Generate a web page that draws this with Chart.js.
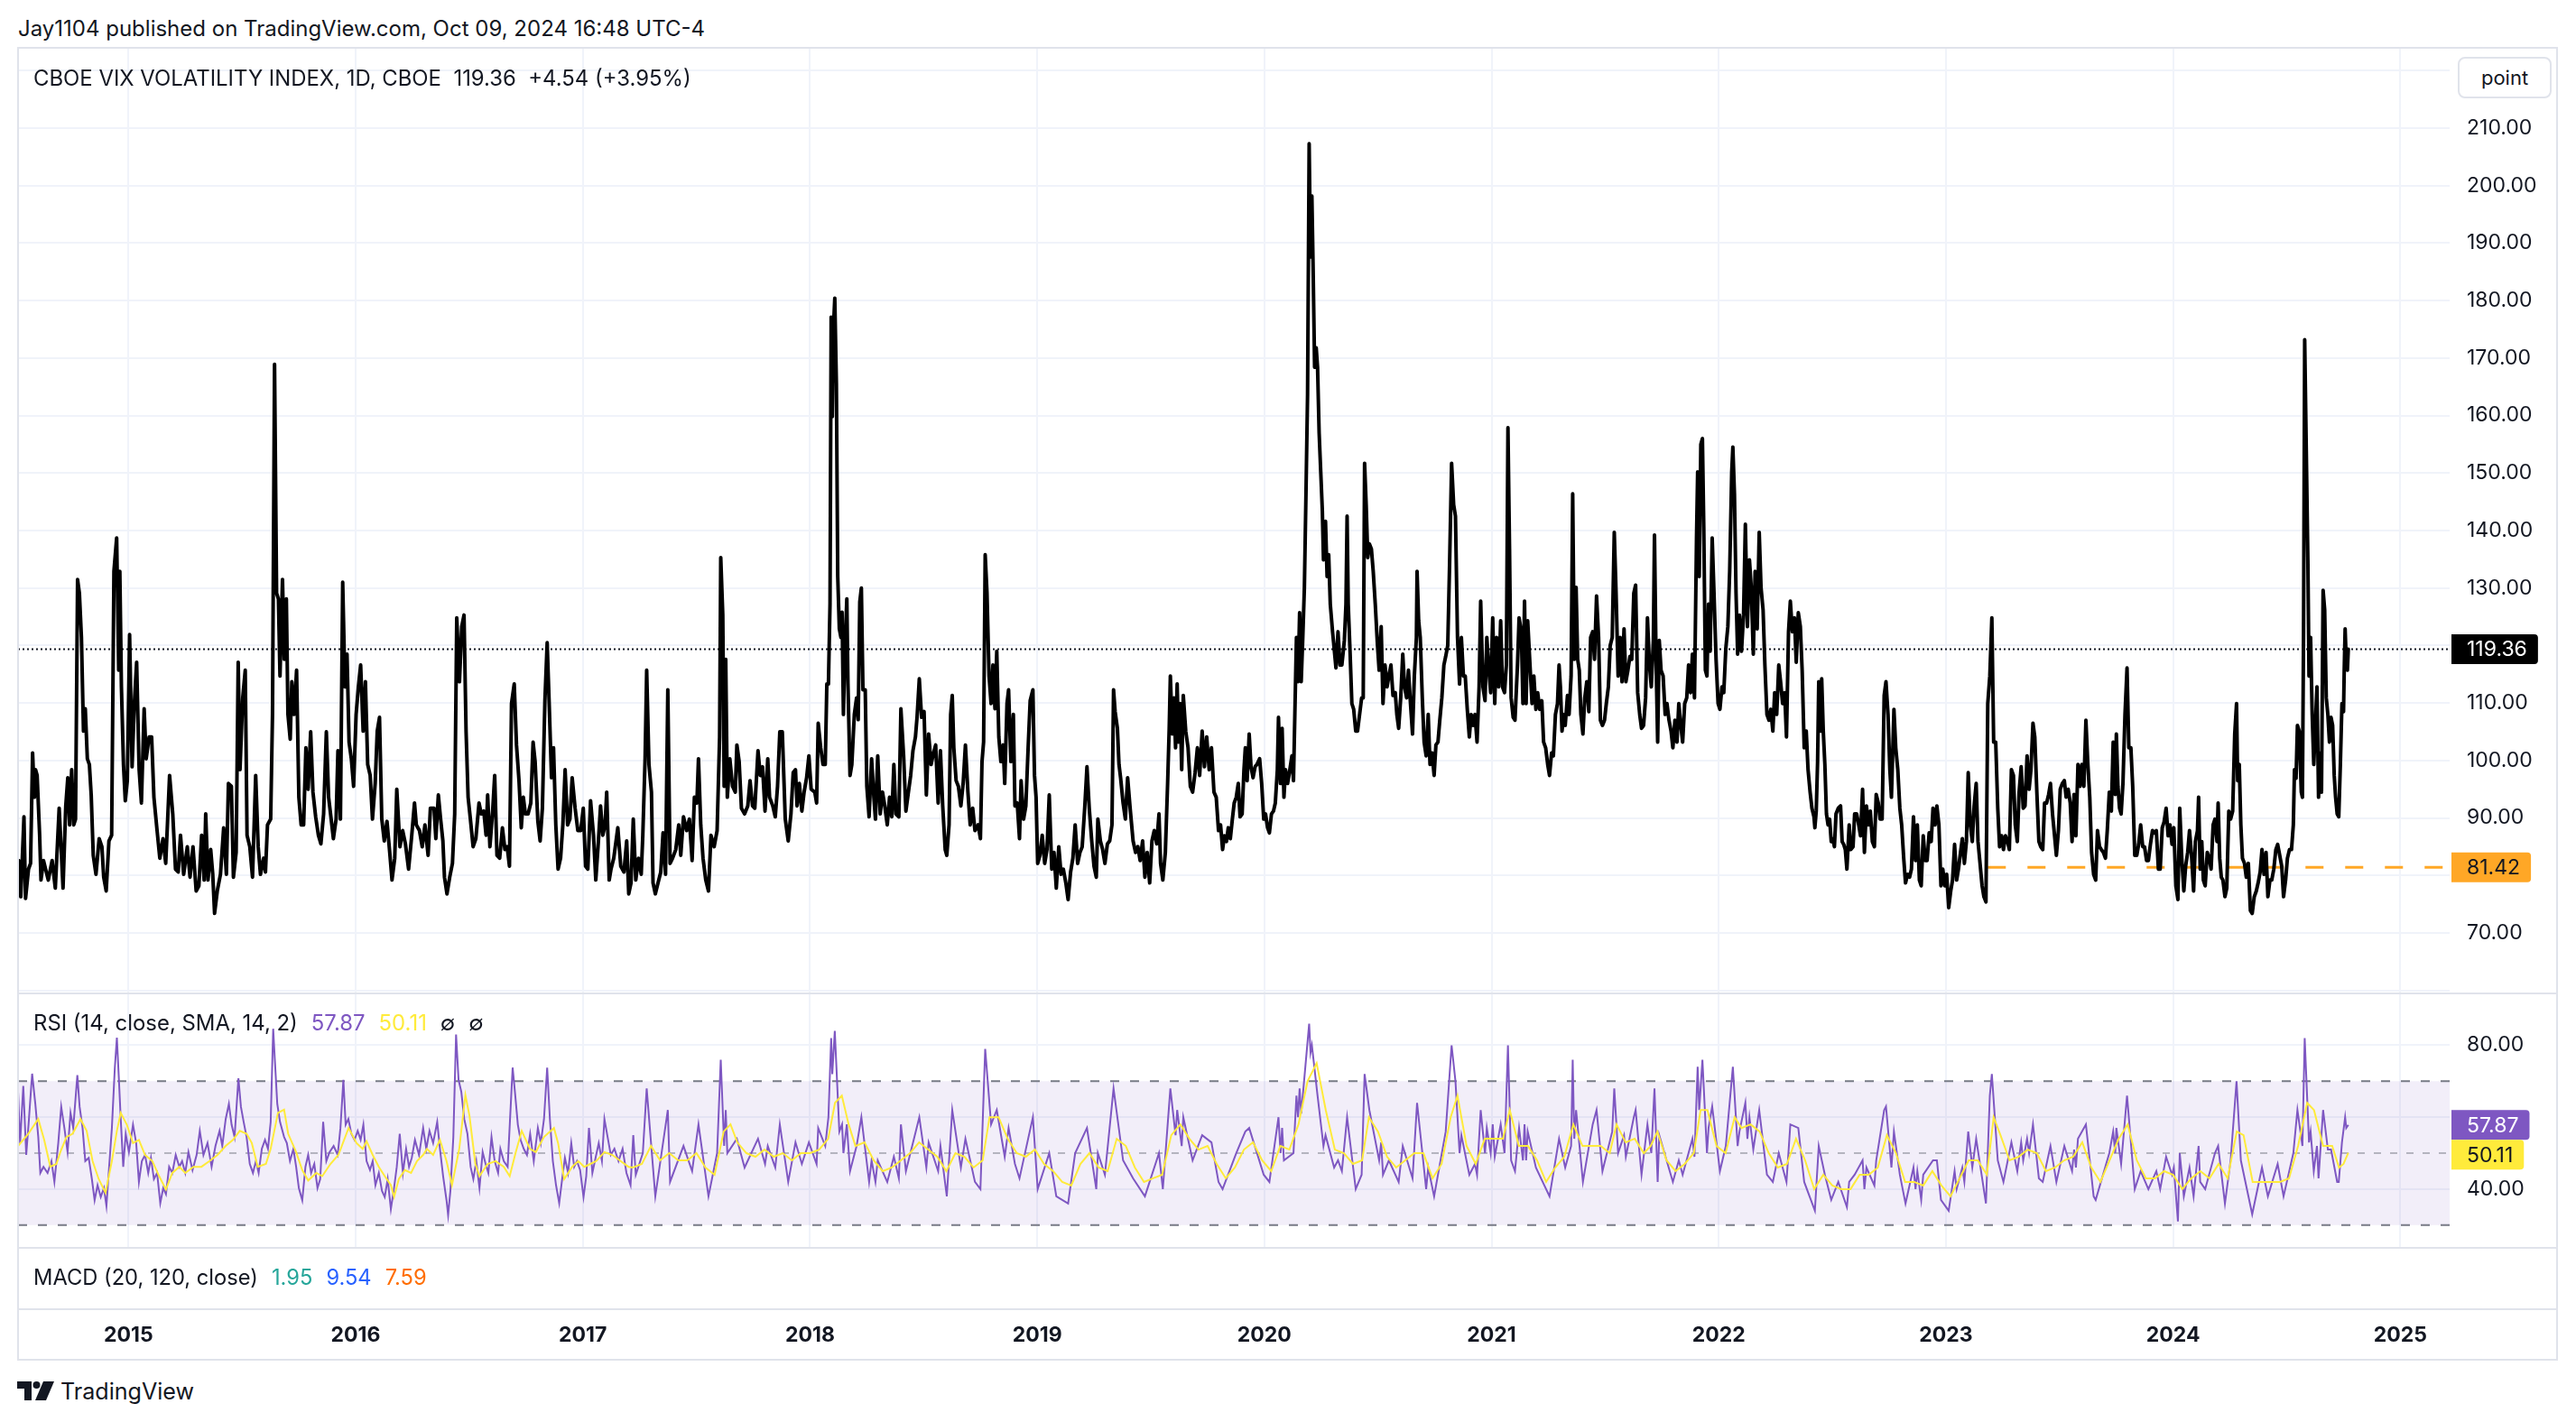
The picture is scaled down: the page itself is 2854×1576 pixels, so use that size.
<!DOCTYPE html>
<html>
<head>
<meta charset="utf-8">
<title>CBOE VIX VOLATILITY INDEX</title>
<script src="https://cdn.jsdelivr.net/npm/chart.js@4.4.1/dist/chart.umd.min.js"></script>
<style>
  html, body { margin:0; padding:0; background:#fff; }
  body { width:2854px; height:1576px; position:relative; overflow:hidden; font-family:Inter, "Noto Sans", sans-serif; color:#131722; }
  .txt { position:absolute; white-space:pre; line-height:1; transform:translateY(-50%); }
  .frame { position:absolute; left:19px; top:52px; width:2811px; height:1452px; border:2px solid #e0e3eb; pointer-events:none; z-index:5; }
  .sep { position:absolute; left:20px; width:2813px; height:2px; background:#e0e3eb; z-index:5; }
  canvas { position:absolute; }
  .unit { position:absolute; left:2723px; top:63px; width:100px; height:42px; border:2px solid #e0e3eb; border-radius:8px; font-size:22px; line-height:42px; text-align:center; z-index:6; background:#fff; }
  .gap { display:inline-block; width:15px; }
</style>
</head>
<body>
<div class="txt" id="header" style="left:20px;top:32px;font-size:22px;">Jay1104 published on TradingView.com, Oct 09, 2024 16:48 UTC-4</div>

<canvas id="mainChart" width="2814" height="1048" style="left:20px;top:53px;"></canvas>
<canvas id="rsiChart" width="2814" height="406" style="left:20px;top:1101px;"></canvas>

<div class="frame"></div>
<div class="sep" style="top:1100px"></div>
<div class="sep" style="top:1382px"></div>
<div class="sep" style="top:1450px"></div>

<div class="txt" id="title" style="left:37px;top:87px;font-size:22px;z-index:6;">CBOE VIX VOLATILITY INDEX, 1D, CBOE  119.36  +4.54 (+3.95%)</div>
<div class="unit">point</div>

<div class="txt" id="rsiLegend" style="left:37px;top:1134px;font-size:22px;z-index:6;"><span id="rsiName">RSI (14, close, SMA, 14, 2)</span><span class="gap"></span><span style="color:#7e57c2">57.87</span><span class="gap"></span><span style="color:#ffeb3b">50.11</span><span class="gap"></span><span>∅</span><span class="gap"></span><span>∅</span></div>

<div class="txt" id="macdLegend" style="left:37px;top:1416px;font-size:22px;z-index:6;"><span id="macdName">MACD (20, 120, close)</span><span class="gap"></span><span style="color:#26a69a">1.95</span><span class="gap"></span><span style="color:#2962ff">9.54</span><span class="gap"></span><span style="color:#ff6d00">7.59</span></div>

<svg style="position:absolute;left:19px;top:1531px" width="42" height="22" viewBox="0 0 42 22">
  <path d="M0 0 H16 V21 H8 V8 H0 Z" fill="#131722"/>
  <circle cx="21.5" cy="4" r="4" fill="#131722"/>
  <path d="M29 0 H41 L32 21 H20 Z" fill="#131722"/>
</svg>
<div class="txt" id="logoText" style="left:67px;top:1543px;font-size:25px;">TradingView</div>

<script>
// ---- DATA ----
const yearTicks = [2015, 2016, 2017, 2018, 2019, 2020, 2021, 2022, 2023, 2024, 2025];
const priceTicks = [60, 70, 80, 90, 100, 110, 120, 130, 140, 150, 160, 170, 180, 190, 200, 210, 220];
const hiddenPriceTicks = [60, 120, 220];
const rsiTicks = [40, 60, 80];
const rsiLabelTicks = [40, 80];

const lastClose = 119.36;
const hlineLevel = 81.42;
const hlineStart = 2023.184;
const lastRsi = 57.87;
const lastRsiMa = 50.11;

// daily closes (decimal year)
const vvixDates = [
  2014.517,2014.526,2014.540,2014.547,2014.560,2014.569,2014.578,2014.586,2014.591,2014.598,
  2014.609,2014.615,2014.626,2014.647,2014.664,2014.678,2014.695,2014.712,2014.724,2014.733,
  2014.741,2014.750,2014.759,2014.767,2014.776,2014.784,2014.793,2014.802,2014.810,2014.819,
  2014.828,2014.836,2014.845,2014.857,2014.871,2014.883,2014.891,2014.902,2014.914,2014.926,
  2014.936,2014.948,2014.957,2014.962,2014.969,2014.978,2014.986,2014.995,2015.005,2015.016,
  2015.026,2015.036,2015.047,2015.057,2015.069,2015.078,2015.091,2015.102,2015.112,2015.126,
  2015.138,2015.152,2015.164,2015.181,2015.195,2015.207,2015.219,2015.229,2015.243,2015.259,
  2015.271,2015.284,2015.298,2015.310,2015.322,2015.333,2015.340,2015.350,2015.362,2015.371,
  2015.379,2015.391,2015.405,2015.419,2015.431,2015.440,2015.453,2015.462,2015.474,2015.483,
  2015.491,2015.503,2015.514,2015.522,2015.534,2015.546,2015.560,2015.571,2015.581,2015.595,
  2015.603,2015.612,2015.626,2015.634,2015.643,2015.652,2015.660,2015.667,2015.678,2015.686,
  2015.695,2015.702,2015.712,2015.719,2015.729,2015.740,2015.750,2015.760,2015.771,2015.781,
  2015.791,2015.802,2015.812,2015.824,2015.836,2015.847,2015.859,2015.871,2015.881,2015.891,
  2015.902,2015.914,2015.922,2015.933,2015.943,2015.953,2015.962,2015.971,2015.981,2015.991,
  2016.002,2016.012,2016.022,2016.033,2016.043,2016.053,2016.064,2016.074,2016.086,2016.095,
  2016.105,2016.115,2016.126,2016.138,2016.150,2016.160,2016.172,2016.181,2016.195,2016.207,
  2016.219,2016.233,2016.247,2016.259,2016.267,2016.281,2016.293,2016.305,2016.319,2016.329,
  2016.345,2016.353,2016.364,2016.374,2016.384,2016.391,2016.402,2016.414,2016.426,2016.436,
  2016.445,2016.457,2016.467,2016.477,2016.486,2016.495,2016.505,2016.517,2016.529,2016.543,
  2016.553,2016.564,2016.574,2016.581,2016.591,2016.603,2016.612,2016.622,2016.634,2016.646,
  2016.657,2016.667,2016.677,2016.686,2016.698,2016.708,2016.719,2016.729,2016.738,2016.747,
  2016.759,2016.771,2016.781,2016.790,2016.802,2016.812,2016.822,2016.833,2016.843,2016.853,
  2016.862,2016.871,2016.881,2016.891,2016.902,2016.912,2016.922,2016.933,2016.943,2016.953,
  2016.966,2016.978,2016.991,2017.002,2017.012,2017.022,2017.034,2017.047,2017.057,2017.067,
  2017.078,2017.088,2017.098,2017.105,
  2017.116,2017.124,2017.136,2017.154,2017.167,2017.181,2017.193,2017.202,2017.212,2017.222,
  2017.233,2017.245,2017.257,2017.264,2017.274,2017.281,2017.291,2017.302,2017.309,2017.319,
  2017.331,2017.343,2017.353,2017.364,2017.374,2017.384,2017.395,2017.409,2017.422,2017.431,
  2017.443,2017.457,2017.469,2017.481,2017.491,2017.502,2017.509,2017.519,2017.529,2017.541,
  2017.553,2017.564,2017.578,2017.591,2017.602,2017.607,2017.616,2017.622,2017.629,2017.636,
  2017.647,2017.659,2017.671,2017.678,2017.688,2017.698,2017.712,2017.726,2017.736,2017.747,
  2017.757,2017.771,2017.781,2017.791,2017.802,2017.814,2017.822,2017.836,2017.847,2017.857,
  2017.867,2017.878,2017.891,2017.904,2017.916,2017.926,2017.936,2017.943,2017.953,2017.964,
  2017.974,2017.985,2017.995,2018.005,2018.021,2018.029,2018.036,2018.047,2018.057,2018.067,
  2018.074,2018.081,2018.088,2018.093,2018.098,2018.103,2018.109,2018.116,2018.122,2018.129,
  2018.136,2018.141,2018.147,2018.153,2018.162,2018.167,2018.176,2018.184,2018.195,2018.205,
  2018.212,2018.219,2018.226,2018.233,2018.243,2018.250,2018.260,2018.271,2018.281,2018.288,
  2018.298,2018.309,2018.319,2018.329,2018.340,2018.350,2018.360,2018.369,2018.378,2018.391,
  2018.400,2018.412,2018.422,2018.433,2018.443,2018.453,2018.464,2018.471,2018.481,2018.491,
  2018.502,2018.512,2018.522,2018.533,2018.543,2018.553,2018.564,2018.574,2018.584,2018.595,
  2018.602,2018.612,2018.619,2018.626,2018.633,2018.643,2018.653,2018.664,2018.674,2018.684,
  2018.695,2018.705,2018.716,2018.726,2018.740,2018.750,2018.757,2018.764,2018.771,2018.779,
  2018.788,2018.797,2018.805,2018.814,2018.822,2018.831,2018.840,2018.850,2018.857,2018.867,
  2018.874,2018.884,2018.895,2018.902,2018.912,2018.922,2018.929,2018.940,2018.950,2018.960,
  2018.969,2018.981,2018.988,2018.995,2019.002,2019.012,2019.022,2019.033,2019.043,2019.053,
  2019.064,2019.074,2019.084,2019.095,2019.105,2019.115,2019.126,2019.136,2019.147,2019.157,
  2019.167,2019.178,2019.188,2019.198,2019.209,2019.219,2019.229,2019.240,2019.250,2019.260,
  2019.267,2019.278,2019.288,2019.298,2019.309,2019.319,2019.329,2019.336,2019.343,2019.353,
  2019.360,2019.367,2019.378,2019.388,2019.398,2019.409,2019.422,2019.433,2019.443,2019.453,
  2019.464,2019.474,2019.484,2019.495,2019.505,2019.515,2019.526,2019.536,2019.543,2019.553,
  2019.564,2019.574,2019.581,2019.586,2019.595,2019.602,2019.609,2019.616,2019.622,2019.629,
  2019.636,2019.643,2019.654,2019.664,2019.674,2019.684,2019.695,2019.705,2019.715,2019.726,
  2019.736,2019.746,2019.757,2019.767,2019.778,2019.788,2019.798,
  2019.807,2019.816,2019.824,2019.833,2019.841,2019.850,2019.859,2019.867,2019.876,2019.885,
  2019.893,2019.902,2019.910,2019.916,2019.924,2019.933,2019.941,2019.950,2019.959,2019.967,
  2019.979,2019.988,2019.997,2020.005,2020.014,2020.022,2020.031,2020.040,2020.048,2020.057,
  2020.062,2020.071,2020.078,2020.086,2020.093,2020.102,2020.110,2020.121,2020.128,2020.134,
  2020.141,2020.148,2020.155,2020.162,2020.169,2020.176,2020.183,2020.190,2020.197,2020.203,
  2020.209,2020.214,2020.221,2020.228,2020.234,2020.241,2020.248,2020.255,2020.260,2020.269,
  2020.276,2020.283,2020.290,2020.300,2020.307,2020.315,2020.324,2020.333,2020.341,2020.352,
  2020.359,2020.364,2020.369,2020.376,2020.385,2020.393,2020.402,2020.410,2020.419,2020.428,
  2020.435,2020.441,2020.448,2020.455,2020.462,2020.471,2020.479,2020.488,2020.497,2020.505,
  2020.514,2020.522,2020.531,2020.540,2020.548,2020.557,2020.566,2020.576,2020.583,2020.591,
  2020.600,2020.609,2020.617,2020.626,2020.634,2020.643,2020.652,2020.660,2020.669,2020.672,
  2020.679,2020.686,2020.695,2020.703,2020.712,2020.721,2020.729,2020.738,2020.747,2020.755,
  2020.764,2020.772,2020.781,2020.790,2020.798,2020.807,2020.815,2020.824,2020.833,2020.841,
  2020.850,2020.859,2020.867,2020.876,2020.884,2020.893,2020.902,2020.910,2020.919,2020.927,
  2020.936,2020.945,2020.952,2020.962,2020.971,2020.979,2020.988,2020.996,2021.005,2021.014,
  2021.022,2021.031,2021.040,2021.048,2021.057,2021.065,2021.072,2021.079,2021.086,2021.095,
  2021.103,2021.114,2021.121,2021.131,2021.138,2021.145,2021.152,2021.159,2021.169,2021.178,
  2021.186,2021.195,2021.203,2021.212,2021.221,2021.229,2021.238,2021.247,2021.255,2021.264,
  2021.272,2021.281,2021.290,2021.297,2021.303,2021.310,2021.317,2021.324,2021.334,2021.341,
  2021.350,2021.357,2021.364,2021.372,2021.379,2021.386,2021.393,2021.402,2021.410,2021.419,
  2021.428,2021.436,2021.445,2021.453,2021.462,2021.471,2021.479,2021.488,2021.497,2021.505,
  2021.514,2021.522,2021.531,2021.540,2021.548,2021.557,2021.566,2021.574,2021.583,2021.591,
  2021.600,2021.609,2021.617,2021.626,2021.634,2021.643,2021.652,2021.660,2021.669,2021.678,
  2021.686,2021.695,2021.703,2021.712,2021.717,2021.724,2021.731,2021.738,2021.746,2021.755,
  2021.764,2021.772,2021.781,2021.790,2021.798,2021.807,2021.816,2021.824,2021.833,2021.841,
  2021.850,2021.859,2021.867,2021.876,2021.884,2021.893,2021.902,2021.907,2021.914,2021.921,
  2021.928,2021.934,2021.941,2021.948,2021.955,2021.962,2021.971,2021.979,2021.988,2021.997,
  2022.005,2022.014,2022.022,2022.031,2022.040,2022.048,2022.057,2022.062,2022.069,2022.076,
  2022.083,2022.091,2022.100,2022.109,2022.117,2022.126,2022.135,2022.143,2022.152,2022.160,
  2022.169,2022.178,2022.186,2022.195,2022.203,2022.212,2022.221,2022.229,2022.238,2022.246,
  2022.255,2022.264,2022.272,2022.281,2022.290,2022.298,2022.307,2022.315,2022.324,2022.333,
  2022.341,2022.350,2022.359,2022.367,2022.376,2022.385,2022.393,2022.402,2022.410,2022.419,
  2022.423,2022.429,2022.435,2022.440,2022.447,2022.453,2022.460,2022.467,2022.474,2022.481,
  2022.488,2022.495,2022.502,2022.509,2022.516,2022.526,2022.536,2022.543,2022.550,2022.557,
  2022.564,2022.574,2022.581,2022.591,2022.598,2022.607,2022.616,2022.624,2022.633,2022.641,
  2022.650,2022.659,2022.667,2022.676,2022.685,2022.693,2022.702,2022.710,2022.719,2022.728,
  2022.736,2022.745,2022.753,2022.760,2022.771,2022.779,2022.788,2022.797,2022.805,2022.814,
  2022.822,2022.831,2022.840,2022.848,2022.857,2022.866,2022.874,2022.883,2022.891,2022.900,
  2022.909,2022.917,2022.926,2022.935,2022.943,2022.952,2022.960,2022.969,2022.978,2022.986,
  2022.995,2023.003,2023.012,2023.021,2023.029,2023.038,2023.047,2023.055,2023.064,2023.072,
  2023.081,2023.090,2023.098,2023.107,2023.116,2023.124,2023.133,2023.141,2023.150,2023.159,
  2023.167,2023.176,2023.184,2023.193,2023.202,2023.210,2023.219,2023.228,2023.236,2023.245,
  2023.253,2023.262,2023.271,2023.279,2023.288,2023.297,2023.305,2023.314,2023.322,2023.331,
  2023.340,2023.348,2023.357,2023.366,2023.374,2023.383,2023.391,2023.400,2023.409,2023.417,
  2023.426,2023.434,2023.443,2023.452,2023.460,2023.469,2023.478,2023.486,2023.495,2023.503,
  2023.512,2023.521,2023.529,2023.538,2023.547,2023.555,2023.564,2023.572,2023.581,2023.590,
  2023.598,2023.607,2023.616,2023.624,2023.633,2023.641,2023.650,2023.659,2023.667,2023.676,
  2023.684,2023.693,2023.702,2023.710,2023.719,2023.728,2023.736,2023.745,2023.750,2023.757,
  2023.764,2023.771,2023.779,2023.788,2023.797,2023.805,2023.814,2023.822,2023.831,2023.840,
  2023.848,2023.857,2023.866,2023.874,2023.883,2023.891,2023.900,2023.909,2023.917,2023.926,
  2023.935,2023.943,2023.952,2023.960,2023.969,2023.978,2023.986,2023.995,2024.003,2024.012,
  2024.021,2024.029,2024.038,2024.047,2024.055,2024.064,2024.072,2024.081,2024.090,2024.098,
  2024.107,2024.112,2024.119,2024.126,2024.133,2024.141,2024.150,2024.159,2024.167,2024.176,
  2024.184,2024.193,2024.198,2024.205,2024.212,2024.219,2024.228,2024.236,2024.245,2024.253,
  2024.262,2024.271,2024.279,2024.284,2024.291,2024.298,2024.305,2024.314,2024.322,2024.331,
  2024.340,2024.348,2024.357,2024.366,2024.374,2024.383,2024.391,2024.400,2024.409,2024.417,
  2024.426,2024.434,2024.443,2024.452,2024.460,2024.469,2024.478,2024.486,2024.495,2024.503,
  2024.512,2024.521,2024.529,2024.534,2024.541,2024.547,2024.555,2024.564,2024.569,2024.574,
  2024.579,2024.586,2024.593,2024.598,2024.605,2024.612,2024.619,2024.626,2024.633,2024.640,
  2024.647,2024.653,2024.660,2024.667,2024.674,2024.681,2024.688,2024.695,2024.702,2024.709,
  2024.715,2024.722,2024.729,2024.736,2024.743,2024.750,2024.753,2024.757,2024.762,2024.767,
  2024.771
];
const vvixClose = [
  82.6,76.3,90.2,76.0,81.1,82.1,101.3,93.6,98.4,97.4,
  87.0,79.2,82.6,79.2,82.6,77.8,91.7,77.8,92.1,97.0,
  88.8,98.4,88.8,89.8,131.5,129.1,121.4,105.1,109.0,100.3,
  99.3,94.0,83.5,80.2,86.4,85.0,79.7,77.3,86.0,87.0,
  132.9,138.7,115.7,132.9,112.8,99.3,93.0,96.5,121.9,98.9,
  110.0,117.1,98.4,92.6,109.0,100.3,104.1,104.1,93.6,87.8,
  83.0,86.4,82.1,97.4,90.7,81.1,80.6,87.0,80.2,85.0,
  79.7,85.0,77.3,78.2,87.0,79.2,90.7,79.2,84.5,80.2,
  73.4,77.3,80.2,88.3,80.2,96.0,95.5,79.7,84.0,117.1,
  98.4,110.9,115.7,87.0,85.0,79.7,97.4,85.0,80.2,83.0,
  80.6,88.8,89.8,108.0,168.9,129.1,128.1,114.7,131.5,117.6,
  128.1,108.0,103.7,113.7,108.0,115.7,93.6,88.8,88.8,102.2,
  95.0,105.0,94.5,90.2,87.0,85.5,90.7,105.0,93.6,90.2,
  86.4,89.8,101.7,89.8,131.0,112.8,118.5,103.2,100.3,95.5,
  108.0,112.8,116.6,105.1,113.7,99.3,97.4,89.8,96.0,105.1,
  107.5,89.8,86.0,89.4,84.0,79.2,83.0,95.0,85.0,87.8,
  85.5,81.1,87.0,92.6,88.8,87.8,85.0,88.8,83.5,91.7,
  91.7,86.4,94.0,89.8,86.0,79.7,76.8,79.7,82.1,90.7,
  124.8,113.7,123.3,125.3,105.1,93.6,89.8,85.0,86.4,92.6,
  90.7,91.2,87.0,94.0,85.0,91.2,97.4,83.5,83.0,88.3,
  84.5,85.0,81.6,109.9,113.3,102.7,96.5,88.3,93.6,90.7,
  90.7,92.6,103.2,99.8,89.4,86.0,91.7,110.4,120.5,108.5,
  97.0,102.2,88.8,81.1,83.0,88.8,98.4,88.8,89.8,97.0,
  91.7,87.8,87.8,91.7,81.6,81.1,93.0,87.0,79.2,85.0,
  92.1,87.0,88.8,94.5,
  79.2,81.1,83.0,88.3,81.6,80.6,86.0,76.8,78.7,89.8,
  79.2,83.0,80.2,87.0,100.3,115.7,99.3,94.5,78.7,76.8,
  78.7,80.6,87.4,80.2,112.3,82.1,83.0,84.5,88.8,83.5,
  90.2,87.8,89.8,82.6,93.6,92.6,100.3,88.8,83.0,79.2,
  77.3,87.0,85.0,87.8,104.1,135.3,125.3,95.5,117.6,93.6,
  100.3,95.5,94.5,102.7,99.8,91.7,90.7,92.1,96.5,92.1,
  91.7,101.7,97.4,98.9,91.2,100.3,93.6,92.1,90.2,95.5,
  105.0,105.0,89.8,86.0,90.7,97.9,98.4,92.1,96.0,91.2,
  94.5,97.0,100.8,95.0,94.5,92.6,106.5,102.2,99.3,99.3,
  113.3,113.3,127.2,177.1,159.8,175.2,180.4,165.6,132.0,122.9,
  121.4,125.8,108.0,118.5,128.1,113.3,97.4,99.3,108.0,110.9,
  107.1,127.6,130.0,112.3,112.3,95.5,90.2,100.3,93.6,89.8,
  100.8,90.7,94.5,92.1,88.8,93.6,90.2,99.3,90.7,90.2,
  109.0,100.8,91.2,94.5,97.4,101.7,104.1,107.5,114.2,107.5,
  108.5,94.0,104.6,99.3,101.2,102.7,92.6,101.7,92.1,84.5,
  83.5,88.8,108.0,111.3,102.2,96.5,95.5,92.1,96.0,102.7,
  94.5,88.8,91.7,87.8,88.8,86.4,99.8,103.2,135.8,129.1,
  114.7,109.9,116.6,109.0,119.0,104.1,99.8,102.7,96.0,109.9,
  112.3,99.8,108.0,92.1,92.6,86.4,96.5,89.8,92.1,102.2,
  110.4,112.3,97.4,93.6,82.1,83.5,87.0,82.1,84.5,94.0,
  81.1,84.0,77.8,85.0,80.2,81.1,78.7,75.8,80.6,83.0,
  88.8,82.1,84.0,85.0,91.7,98.9,91.7,86.0,81.6,79.7,
  89.8,86.0,84.5,82.1,85.5,86.0,88.8,112.3,108.5,105.6,
  99.3,97.0,92.6,89.8,97.0,91.7,86.0,84.0,85.0,82.6,
  86.0,79.7,84.0,78.7,86.0,87.8,85.5,90.7,82.1,79.2,
  84.0,96.0,105.6,114.7,104.6,110.9,102.2,113.3,103.2,109.9,
  98.4,111.3,105.0,102.2,95.5,94.5,97.9,102.2,97.4,105.1,
  98.9,104.1,98.4,102.2,94.5,93.6,87.8,
  88.8,84.5,86.9,85.9,88.3,86.4,89.8,92.6,93.6,96.0,
  90.2,90.7,98.4,102.2,96.5,104.6,98.9,97.0,98.9,99.3,
  100.3,96.0,89.8,90.7,88.3,87.4,90.7,91.2,92.6,98.4,
  107.5,96.0,105.6,93.6,98.4,96.0,97.9,100.8,96.5,108.0,
  121.4,113.7,125.7,113.7,121.4,130.1,146.4,163.6,207.3,187.6,
  198.2,186.7,168.4,171.8,168.4,156.9,150.2,143.5,134.9,141.6,
  132.0,135.8,127.2,122.4,119.5,116.1,122.4,116.6,116.6,120.9,
  127.2,142.5,127.2,120.0,109.9,108.9,105.1,105.1,108.0,110.9,
  110.9,151.7,144.5,135.3,137.7,136.8,132.9,127.2,120.5,115.7,
  123.3,109.9,116.6,112.8,114.7,116.6,111.3,111.8,108.0,105.6,
  110.9,118.5,112.8,110.9,115.7,109.9,104.6,114.7,121.4,132.9,
  124.3,121.4,110.9,103.2,100.8,108.0,99.3,101.3,97.4,102.7,
  103.2,107.0,110.9,116.6,118.1,120.0,133.9,151.7,144.5,142.5,
  121.4,113.3,121.4,114.7,114.7,108.9,104.1,108.0,106.1,108.0,
  103.2,112.8,127.7,112.8,110.4,121.4,115.7,111.8,124.8,109.9,
  121.4,112.8,124.3,112.8,111.8,116.6,157.9,136.8,110.9,107.5,
  107.0,116.6,124.8,122.4,109.9,127.7,109.9,124.3,116.6,109.9,
  114.7,108.9,111.8,108.9,110.4,103.2,102.2,99.3,97.4,101.3,
  100.8,108.0,109.9,116.6,112.8,105.1,108.0,106.1,111.3,108.0,
  114.7,146.4,117.6,130.1,117.6,115.7,108.0,104.6,110.9,113.7,
  108.5,121.4,122.4,117.6,128.6,121.4,107.0,106.1,107.0,109.9,
  112.8,120.0,121.4,139.7,129.1,114.7,121.4,113.7,122.9,113.7,
  115.7,118.1,117.6,129.1,130.5,111.8,108.0,105.6,106.1,110.9,
  124.8,116.6,112.8,120.9,139.2,117.6,103.2,120.9,115.7,114.7,
  108.0,109.9,107.0,105.1,102.2,107.0,103.2,109.9,106.1,103.2,
  109.9,110.9,116.6,111.8,118.5,110.9,138.7,150.2,132.0,155.0,
  156.0,140.6,115.7,114.7,127.2,119.0,138.7,129.1,117.6,109.9,
  108.9,112.8,111.8,119.5,123.3,132.9,150.2,154.5,146.4,129.1,
  118.5,125.3,119.0,125.3,141.1,123.3,134.9,130.1,118.5,132.9,
  122.9,139.7,130.1,126.2,116.6,108.0,107.0,108.9,105.1,111.8,
  108.0,116.6,113.7,109.9,111.8,104.1,122.4,127.7,122.4,124.8,
  117.1,125.7,123.3,115.7,102.2,105.1,98.4,94.5,91.7,90.2,
  88.3,91.2,99.8,113.7,105.1,114.2,105.1,99.3,90.7,88.8,
  89.8,85.9,86.4,85.0,90.7,91.7,92.1,85.9,85.4,84.5,
  81.1,88.8,84.5,85.0,90.7,90.7,88.8,86.9,95.0,84.0,
  92.1,88.8,91.2,85.9,85.0,94.1,92.6,89.8,89.8,111.3,
  113.7,108.0,98.4,93.6,108.9,102.2,98.4,91.7,88.8,83.0,
  78.7,80.2,79.7,81.1,90.2,82.6,88.8,79.2,78.2,86.9,
  82.6,82.6,87.4,85.9,91.7,88.8,92.1,88.8,78.2,81.1,
  78.2,80.2,74.4,77.3,79.2,85.4,79.2,81.1,84.0,86.4,
  82.1,85.9,97.9,88.8,85.9,92.1,96.0,85.9,82.1,78.2,
  76.3,75.4,109.9,114.7,124.8,103.2,103.2,91.7,85.0,86.9,
  84.5,86.9,85.9,84.5,98.4,97.4,88.8,85.9,94.5,98.9,
  91.7,92.1,100.8,95.0,98.4,106.5,104.1,94.5,85.9,85.0,
  84.5,92.6,92.6,94.1,96.0,90.7,86.9,83.5,87.8,95.0,
  96.0,96.5,93.6,95.0,92.6,85.9,94.1,86.9,99.3,95.5,
  99.3,95.5,107.0,99.8,93.6,84.0,80.2,79.2,87.8,85.0,
  84.5,84.0,83.0,87.8,94.5,91.2,103.2,94.1,104.6,95.5,
  91.7,90.7,96.0,108.0,116.1,102.2,102.2,95.5,83.5,83.5,
  85.4,88.8,85.0,85.0,82.6,82.6,85.4,87.8,87.4,87.8,
  81.1,81.1,88.3,89.3,91.7,86.9,88.8,85.4,88.3,78.2,
  75.8,91.7,83.0,77.3,81.6,84.0,87.8,83.5,77.3,85.9,
  87.8,93.6,81.1,85.9,79.2,78.2,84.0,83.0,81.1,88.8,
  89.8,85.9,92.6,83.0,79.7,79.2,76.3,77.8,91.2,89.8,
  91.2,104.6,109.9,96.5,99.3,88.8,83.0,82.1,79.7,82.1,
  73.9,73.4,76.3,77.3,78.7,80.6,84.5,80.2,84.0,76.3,
  79.2,79.2,81.1,84.5,85.4,83.5,81.6,76.3,79.2,83.0,
  84.5,84.5,88.8,98.4,96.9,106.1,105.1,94.5,93.6,122.4,
  173.2,154.0,134.9,114.7,121.4,108.0,99.3,106.1,112.8,93.6,
  101.3,94.5,129.6,126.2,110.9,108.0,103.2,107.5,106.1,97.4,
  93.6,90.7,90.2,99.3,109.9,108.5,115.7,122.9,117.1,115.7,
  119.36
];

const rsiDates = [
  2014.514,2014.523,2014.537,2014.550,2014.562,2014.576,2014.590,2014.603,2014.612,2014.626,
  2014.644,2014.661,2014.674,2014.691,2014.704,2014.718,2014.732,2014.745,2014.757,2014.775,
  2014.785,2014.798,2014.810,2014.825,2014.839,2014.851,2014.864,2014.878,2014.892,2014.903,
  2014.913,2014.927,2014.940,2014.949,2014.958,2014.966,2014.977,2014.988,2015.002,2015.020,
  2015.034,2015.046,2015.059,2015.073,2015.087,2015.099,2015.112,2015.126,2015.140,2015.153,
  2015.165,2015.179,2015.193,2015.208,2015.224,2015.236,2015.250,2015.264,2015.282,2015.300,
  2015.314,2015.330,2015.348,2015.366,2015.383,2015.401,2015.413,2015.428,2015.442,2015.454,
  2015.467,2015.484,2015.495,2015.507,2015.520,2015.534,2015.548,2015.561,2015.573,2015.587,
  2015.601,2015.614,2015.626,2015.637,2015.644,2015.655,2015.667,2015.685,2015.697,2015.711,
  2015.726,2015.738,2015.750,2015.765,2015.779,2015.791,2015.804,2015.818,2015.832,2015.844,
  2015.857,2015.871,2015.885,2015.903,2015.921,2015.933,2015.946,2015.956,2015.968,2015.981,
  2015.995,2016.009,2016.022,2016.034,2016.048,2016.063,2016.075,2016.087,2016.102,2016.116,
  2016.128,2016.141,2016.155,2016.169,2016.181,2016.194,2016.208,2016.222,2016.235,2016.247,
  2016.261,2016.279,2016.297,2016.311,2016.325,2016.341,2016.359,2016.371,2016.385,2016.400,
  2016.407,2016.417,2016.430,2016.442,2016.453,2016.465,2016.478,2016.492,2016.506,2016.518,
  2016.531,2016.545,2016.559,2016.572,2016.584,2016.598,2016.612,2016.627,2016.637,2016.652,
  2016.669,2016.691,2016.701,2016.714,2016.726,2016.740,2016.754,2016.768,2016.784,2016.802,
  2016.815,2016.829,2016.843,2016.855,2016.868,2016.882,2016.896,2016.909,2016.921,2016.935,
  2016.949,2016.962,2016.974,2016.988,2017.003,2017.015,2017.027,2017.042,2017.056,2017.070,
  2017.084,2017.095,2017.109,2017.123,2017.139,2017.157,2017.175,2017.192,2017.210,
  2017.222,2017.233,2017.264,2017.281,2017.319,2017.374,2017.384,2017.443,2017.481,2017.509,
  2017.553,2017.591,2017.607,2017.622,2017.629,2017.636,2017.678,2017.712,2017.771,2017.802,
  2017.814,2017.847,2017.867,2017.904,2017.936,2017.964,2017.995,2018.029,2018.036,2018.067,
  2018.081,2018.093,2018.098,2018.109,2018.129,2018.141,2018.147,2018.162,2018.176,2018.205,
  2018.226,2018.260,2018.271,2018.288,2018.298,2018.340,2018.369,2018.391,2018.400,2018.422,
  2018.481,2018.512,2018.522,2018.564,2018.574,2018.602,2018.626,2018.664,2018.684,2018.726,
  2018.750,2018.771,2018.797,2018.822,2018.857,2018.874,2018.902,2018.922,2018.960,2018.981,
  2019.002,2019.053,2019.084,2019.136,2019.167,2019.219,2019.260,2019.267,2019.298,2019.336,
  2019.378,2019.422,2019.474,2019.536,2019.553,2019.586,2019.609,2019.616,2019.636,2019.643,
  2019.684,2019.726,2019.767,2019.798,2019.816,2019.876,2019.916,2019.933,2019.997,2020.022,
  2020.062,2020.071,2020.078,2020.086,2020.128,2020.141,2020.148,2020.155,2020.162,2020.197,
  2020.203,2020.209,2020.234,2020.260,2020.269,2020.307,2020.324,2020.341,2020.364,2020.402,
  2020.428,2020.441,2020.462,2020.505,2020.514,2020.522,2020.548,2020.591,2020.609,2020.652,
  2020.672,2020.712,2020.721,2020.747,2020.798,2020.824,2020.841,2020.859,2020.867,2020.902,
  2020.927,2020.936,2020.952,2020.971,2020.979,2020.996,2021.005,2021.014,2021.040,2021.057,
  2021.072,2021.086,2021.103,2021.121,2021.138,2021.145,2021.152,2021.159,2021.195,2021.255,
  2021.297,2021.324,2021.350,2021.357,2021.364,2021.372,2021.402,2021.445,2021.462,2021.488,
  2021.531,2021.540,2021.557,2021.583,2021.591,2021.626,2021.634,2021.660,2021.686,2021.703,
  2021.717,2021.731,2021.738,2021.798,2021.824,2021.841,2021.884,2021.893,2021.907,2021.914,
  2021.928,2021.948,2021.955,2021.971,2022.005,2022.031,2022.062,2022.083,2022.091,2022.117,
  2022.126,2022.135,2022.152,2022.178,2022.212,2022.238,2022.264,2022.298,2022.315,2022.350,
  2022.376,2022.423,2022.440,2022.467,2022.495,2022.526,2022.564,2022.574,2022.598,2022.633,
  2022.641,2022.650,2022.685,2022.693,2022.728,2022.736,2022.760,2022.771,2022.797,2022.822,
  2022.857,2022.866,2022.874,2022.891,2022.900,2022.943,2022.960,2022.978,2023.012,2023.038,
  2023.047,2023.072,2023.081,2023.098,2023.116,2023.133,2023.176,2023.193,2023.202,2023.228,
  2023.253,2023.288,2023.314,2023.331,2023.340,2023.357,2023.366,2023.383,2023.409,2023.426,
  2023.460,2023.486,2023.521,2023.555,2023.564,2023.572,2023.581,2023.616,2023.650,2023.659,
  2023.719,2023.736,2023.745,2023.750,2023.771,2023.797,2023.831,2023.857,2023.891,2023.926,
  2023.943,2023.969,2023.995,2024.003,2024.021,2024.029,2024.047,2024.072,2024.090,2024.112,
  2024.119,2024.141,2024.184,2024.198,2024.228,2024.253,2024.279,2024.298,2024.348,2024.391,
  2024.417,2024.460,2024.486,2024.529,2024.547,2024.569,2024.579,2024.598,2024.605,2024.619,
  2024.633,2024.640,2024.660,2024.681,2024.695,2024.722,2024.729,2024.743,2024.757,2024.762,
  2024.771
];
const rsiValues = [
  67.1,52.8,68.7,49.5,59.5,72.1,63.7,54.5,44.5,46.2,
  44.5,47.8,42.0,52.8,62.9,57.0,50.3,61.2,57.0,71.7,
  62.9,57.0,47.8,48.7,42.8,36.9,41.1,37.8,40.3,35.3,
  44.5,57.0,73.8,82.1,70.4,59.5,46.2,55.4,50.3,57.9,
  52.8,42.0,47.8,49.5,44.5,48.7,42.8,44.5,36.1,40.3,
  38.6,46.2,44.5,49.5,46.2,47.8,44.5,50.3,45.3,49.5,
  56.2,49.5,52.8,46.2,52.0,56.2,52.0,59.5,63.7,57.9,
  54.5,70.8,62.9,58.7,54.5,47.0,44.5,47.8,44.5,51.2,
  53.7,51.2,58.7,84.6,76.3,63.7,58.7,54.5,52.8,47.8,
  51.2,46.2,40.3,36.9,46.2,49.5,44.5,47.0,40.3,42.8,
  58.7,47.8,50.3,52.0,49.5,57.0,70.4,57.9,59.5,55.4,
  53.7,56.2,53.7,57.9,47.8,45.3,47.8,41.1,44.5,39.5,
  37.8,42.8,34.4,40.3,46.2,55.4,44.5,51.2,46.2,48.7,
  53.7,49.5,57.0,51.2,56.2,52.8,58.7,51.2,43.6,36.9,
  32.8,39.5,54.5,83.0,70.4,67.1,59.5,55.4,46.2,42.8,
  47.8,40.3,50.3,47.0,44.5,54.5,47.8,44.5,51.2,47.8,
  46.2,73.8,67.1,57.9,53.7,51.2,49.5,55.4,47.8,57.0,
  52.8,59.5,73.8,59.5,47.8,41.1,36.1,42.8,48.7,44.5,
  52.8,46.2,47.8,45.3,37.8,43.6,57.0,44.5,48.7,52.8,
  47.8,59.5,54.5,49.5,51.2,47.8,51.2,44.5,41.1,
  55,44,50,68,38,62,42,52,45,58,
  38,50,76,52,62,50,54,46,54,47,
  52,46,58,42,53,47,53,47,57,52,
  60,82,72,84,56,58,50,58,45,52,
  60,42,48,42,48,42,49,43,58,45,
  60,46,53,45,52,38,62,46,54,42,
  40,79,58,62,49,57,47,43,54,60,
  40,50,38,36,50,57,40,50,44,68,
  48,43,38,50,40,68,55,62,52,60,
  48,55,53,42,40,50,56,57,44,42,
  60,50,57,48,50,66,60,68,61,86,
  78,80,66,52,55,46,48,45,60,40,
  44,72,62,48,53,44,48,42,52,43,
  64,40,46,38,56,80,70,50,55,44,
  47,44,62,50,57,50,58,49,58,50,
  80,48,45,57,48,58,48,56,46,38,
  54,46,52,76,54,62,42,58,62,45,
  56,68,50,55,49,60,62,44,58,50,
  68,42,55,42,48,44,54,49,74,62,
  76,50,57,63,45,52,74,52,56,64,
  54,60,51,62,44,42,50,42,58,57,
  42,34,52,44,37,42,35,42,44,48,
  40,46,41,48,62,63,46,56,44,36,
  46,40,45,37,44,48,48,37,34,45,
  40,46,42,56,46,54,36,66,72,48,
  42,53,45,53,48,54,50,58,43,42,
  52,42,52,45,51,46,54,58,38,37,
  50,56,50,57,47,66,40,45,40,45,
  40,49,44,46,31,50,38,46,38,52,
  42,40,50,52,36,48,70,48,33,46,
  38,47,38,50,62,52,82,53,56,45,
  52,43,62,51,51,42,42,53,60,57,
  57.87
];
const rsiMaDates = [
  2014.514,2014.559,2014.603,2014.629,2014.656,2014.683,2014.700,2014.727,2014.754,2014.789,
  2014.816,2014.842,2014.869,2014.899,2014.927,2014.949,2014.966,2014.993,2015.020,2015.046,
  2015.073,2015.105,2015.135,2015.165,2015.193,2015.224,2015.250,2015.286,2015.321,2015.357,
  2015.392,2015.428,2015.460,2015.490,2015.520,2015.543,2015.569,2015.605,2015.626,2015.658,
  2015.685,2015.703,2015.738,2015.765,2015.791,2015.827,2015.853,2015.889,2015.924,2015.969,
  2016.004,2016.031,2016.048,2016.075,2016.102,2016.128,2016.155,2016.169,2016.190,2016.217,
  2016.244,2016.270,2016.297,2016.314,2016.341,2016.371,2016.400,2016.424,2016.456,2016.483,
  2016.501,2016.527,2016.545,2016.581,2016.616,2016.652,2016.678,2016.705,2016.731,2016.767,
  2016.793,2016.829,2016.873,2016.891,2016.918,2016.953,2016.980,2017.006,2017.033,2017.059,
  2017.095,2017.130,2017.166,2017.201,
  2017.22,2017.26,2017.30,2017.34,2017.38,2017.42,2017.46,2017.50,2017.54,2017.58,
  2017.62,2017.65,2017.68,2017.72,2017.76,2017.80,2017.84,2017.88,2017.92,2017.96,
  2018.00,2018.04,2018.08,2018.11,2018.14,2018.17,2018.20,2018.24,2018.28,2018.32,
  2018.36,2018.40,2018.44,2018.48,2018.52,2018.56,2018.60,2018.64,2018.68,2018.72,
  2018.76,2018.79,2018.83,2018.87,2018.91,2018.95,2018.99,2019.03,2019.07,2019.11,
  2019.15,2019.19,2019.23,2019.27,2019.31,2019.35,2019.39,2019.43,2019.47,2019.51,
  2019.55,2019.59,2019.63,2019.67,2019.71,2019.75,2019.79,2019.83,2019.87,2019.91,
  2019.95,2019.99,2020.03,2020.07,2020.11,2020.15,2020.19,2020.23,2020.27,2020.31,
  2020.35,2020.39,2020.43,2020.46,2020.50,2020.54,2020.58,2020.62,2020.66,2020.70,
  2020.74,2020.78,2020.82,2020.85,2020.89,2020.93,2020.97,2021.01,2021.05,2021.08,
  2021.12,2021.16,2021.20,2021.24,2021.28,2021.32,2021.36,2021.40,2021.44,2021.48,
  2021.52,2021.55,2021.59,2021.63,2021.67,2021.70,2021.73,2021.77,2021.81,2021.85,
  2021.89,2021.92,2021.95,2021.99,2022.03,2022.07,2022.10,2022.14,2022.18,2022.22,
  2022.26,2022.30,2022.34,2022.38,2022.42,2022.46,2022.50,2022.54,2022.58,2022.62,
  2022.66,2022.70,2022.74,2022.78,2022.82,2022.86,2022.90,2022.94,2022.98,2023.02,
  2023.06,2023.10,2023.14,2023.18,2023.21,2023.24,2023.28,2023.32,2023.36,2023.40,
  2023.44,2023.48,2023.52,2023.56,2023.60,2023.64,2023.68,2023.72,2023.76,2023.80,
  2023.84,2023.88,2023.92,2023.96,2024.00,2024.04,2024.08,2024.12,2024.16,2024.20,
  2024.24,2024.28,2024.31,2024.35,2024.39,2024.43,2024.47,2024.51,2024.55,2024.59,
  2024.62,2024.66,2024.70,2024.73,2024.75,2024.771
];
const rsiMaValues = [
  52.0,55.4,59.5,53.7,46.2,47.0,50.3,54.5,55.4,59.5,
  56.2,47.8,42.8,39.0,47.8,56.2,61.2,57.9,52.8,53.7,
  49.5,47.8,43.6,39.9,44.5,46.2,44.5,46.2,46.2,47.8,
  49.5,52.0,53.7,56.2,55.4,52.8,46.2,47.0,51.2,61.2,
  62.1,55.4,50.3,45.3,42.4,44.5,43.6,47.0,49.5,57.0,
  52.8,51.2,53.3,49.5,46.2,43.6,41.1,37.8,42.8,45.3,
  44.5,47.8,49.5,51.2,49.5,53.7,47.8,41.1,51.2,66.2,
  60.4,47.0,43.6,47.0,47.8,46.2,43.6,50.3,56.2,51.2,
  50.3,54.5,57.0,52.8,42.8,46.2,47.8,46.2,47.0,47.8,
  50.3,49.5,47.8,46.2,
  46,47,52,48,50,48,48,50,46,44,
  56,58,53,50,49,51,49,50,48,50,
  50,51,54,64,66,58,52,53,48,45,
  46,48,50,53,51,49,45,50,49,46,
  48,60,60,54,50,49,51,47,45,42,
  41,47,50,46,45,54,52,46,42,43,
  44,55,58,54,51,52,47,43,46,51,
  53,48,45,52,51,58,70,75,62,51,
  50,47,48,60,56,49,46,48,50,50,
  43,47,60,66,52,47,54,54,54,62,
  52,52,48,42,46,49,58,52,52,52,
  50,58,53,54,50,52,56,48,45,47,
  50,62,62,52,50,60,57,58,56,50,
  46,47,54,48,40,44,41,40,40,44,
  44,46,55,50,42,42,41,45,41,38,
  43,48,48,44,60,55,48,49,51,50,
  45,46,48,49,53,46,42,48,54,58,
  48,43,43,45,44,40,43,45,43,47,
  43,56,55,42,42,42,42,43,52,64,
  62,52,52,46,47,50.11
];

// ---- CHART ----
const xWindow = { min: 2014.514, max: 2025.217 };
const gridColor = '#f0f3fa';
const textColor = '#131722';
const axisFont = { family: 'Inter', size: 23 };

const toPoints = (xs, ys) => xs.map((x, i) => ({ x: x, y: ys[i] }));

// price / value tags drawn on the right axis
const tagPlugin = {
  id: 'tags',
  afterDraw(chart, args, opts) {
    const { ctx, chartArea, scales } = chart;
    const h = 33;
    let prevBottom = -Infinity;
    ctx.save();
    ctx.font = axisFont.size + 'px ' + axisFont.family;
    ctx.textBaseline = 'middle';
    opts.items.forEach(it => {
      let top = scales.y.getPixelForValue(it.value) - h / 2;
      if (top < prevBottom) top = prevBottom;
      prevBottom = top + h;
      const tx = chartArea.right + 19;
      const w = ctx.measureText(it.text).width;
      const left = chartArea.right + 2;
      ctx.fillStyle = it.bg;
      ctx.beginPath();
      if (ctx.roundRect) ctx.roundRect(left, top, tx + w + 12 - left, h, [0, 4, 4, 0]);
      else ctx.rect(left, top, tx + w + 12 - left, h);
      ctx.fill();
      ctx.fillStyle = it.fg;
      ctx.fillText(it.text, tx, top + h / 2 + 1);
    });
    ctx.restore();
  }
};

// RSI background band and level lines
const bandPlugin = {
  id: 'band',
  beforeDatasetsDraw(chart) {
    const { ctx, chartArea, scales } = chart;
    const y70 = scales.y.getPixelForValue(70);
    const y50 = scales.y.getPixelForValue(50);
    const y30 = scales.y.getPixelForValue(30);
    ctx.save();
    ctx.fillStyle = 'rgba(126,87,194,0.1)';
    ctx.fillRect(chartArea.left, y70, chartArea.right - chartArea.left, y30 - y70);
    ctx.lineWidth = 2;
    ctx.strokeStyle = '#787b86';
    ctx.setLineDash([10, 12]);
    [y70, y30].forEach(y => {
      ctx.beginPath(); ctx.moveTo(chartArea.left, y); ctx.lineTo(chartArea.right, y); ctx.stroke();
    });
    ctx.strokeStyle = 'rgba(120,123,134,0.5)';
    ctx.setLineDash([8, 10]);
    ctx.beginPath(); ctx.moveTo(chartArea.left, y50); ctx.lineTo(chartArea.right, y50); ctx.stroke();
    ctx.restore();
  }
};

function xScale(height, ticks) {
  return {
    type: 'linear',
    min: xWindow.min,
    max: xWindow.max,
    afterBuildTicks: s => { s.ticks = yearTicks.map(v => ({ value: v })); },
    afterFit: s => { s.height = height; s.paddingLeft = 0; s.paddingRight = 0; },
    grid: { color: gridColor, lineWidth: 2, drawTicks: false },
    border: { display: false },
    ticks: ticks
  };
}
function yScale(min, max, tickList, labelFn) {
  return {
    type: 'linear', position: 'right', min: min, max: max,
    afterBuildTicks: s => { s.ticks = tickList.map(v => ({ value: v })); },
    afterFit: s => { s.width = 120; s.paddingTop = 0; s.paddingBottom = 0; },
    grid: { color: gridColor, lineWidth: 2, drawTicks: false },
    border: { display: false },
    ticks: { padding: 19, color: textColor, font: axisFont, callback: labelFn }
  };
}

new Chart(document.getElementById('mainChart'), {
  type: 'line',
  data: {
    datasets: [
      { data: toPoints(vvixDates, vvixClose), borderColor: '#000', borderWidth: 4, pointRadius: 0,
        tension: 0, borderJoinStyle: 'round', borderCapStyle: 'round', order: 1 },
      { data: [{ x: xWindow.min, y: lastClose }, { x: xWindow.max, y: lastClose }], borderColor: '#131722',
        borderWidth: 2, borderDash: [2, 3], pointRadius: 0, order: 3 },
      { data: [{ x: hlineStart, y: hlineLevel }, { x: xWindow.max, y: hlineLevel }], borderColor: '#ffa726',
        borderWidth: 3, borderDash: [20, 24], pointRadius: 0, order: 2 }
    ]
  },
  options: {
    responsive: false, animation: false, devicePixelRatio: 1,
    layout: { padding: 0 },
    plugins: {
      legend: { display: false }, tooltip: { enabled: false },
      tags: { items: [
        { value: lastClose, text: lastClose.toFixed(2), bg: '#000', fg: '#fff' },
        { value: hlineLevel, text: hlineLevel.toFixed(2), bg: '#ffa726', fg: '#131722' }
      ] }
    },
    scales: {
      x: xScale(0, { display: false }),
      y: yScale(59.48, 223.97, priceTicks, v => hiddenPriceTicks.includes(v) ? '' : v.toFixed(2))
    }
  },
  plugins: [tagPlugin]
});

new Chart(document.getElementById('rsiChart'), {
  type: 'line',
  data: {
    datasets: [
      { data: toPoints(rsiDates, rsiValues), borderColor: '#7e57c2', borderWidth: 2, pointRadius: 0, tension: 0, order: 2 },
      { data: toPoints(rsiMaDates, rsiMaValues), borderColor: '#ffeb3b', borderWidth: 2, pointRadius: 0, tension: 0, order: 1 }
    ]
  },
  options: {
    responsive: false, animation: false, devicePixelRatio: 1,
    layout: { padding: 0 },
    plugins: {
      legend: { display: false }, tooltip: { enabled: false },
      tags: { items: [
        { value: lastRsi, text: lastRsi.toFixed(2), bg: '#7e57c2', fg: '#fff' },
        { value: lastRsiMa, text: lastRsiMa.toFixed(2), bg: '#ffeb3b', fg: '#131722' }
      ] }
    },
    scales: {
      x: xScale(124, { padding: 83, color: textColor, font: { family: 'Inter', size: 23, weight: 'bold' },
        maxRotation: 0, autoSkip: false, callback: v => String(v) }),
      y: yScale(23.66, 94.43, rsiTicks, v => rsiLabelTicks.includes(v) ? v.toFixed(2) : '')
    }
  },
  plugins: [bandPlugin, tagPlugin]
});

// fit the text blocks to the widths they have in the picture
function fitWidth(id, target) {
  const el = document.getElementById(id);
  const w = el.getBoundingClientRect().width;
  const fs = parseFloat(getComputedStyle(el).fontSize);
  el.style.fontSize = (fs * target / w).toFixed(2) + 'px';
}
function fitBlock(blockId, partId, target) {
  const block = document.getElementById(blockId);
  const w = document.getElementById(partId).getBoundingClientRect().width;
  const fs = parseFloat(getComputedStyle(block).fontSize);
  block.style.fontSize = (fs * target / w).toFixed(2) + 'px';
}
fitWidth('header', 761);
fitWidth('title', 729);
fitBlock('rsiLegend', 'rsiName', 293);
fitBlock('macdLegend', 'macdName', 249);
fitWidth('logoText', 148);
</script>
</body>
</html>
